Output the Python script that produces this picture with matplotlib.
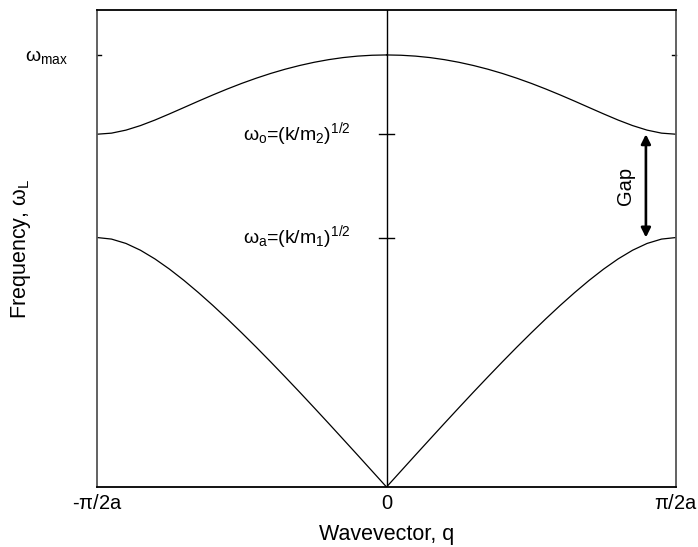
import matplotlib
matplotlib.use("Agg")
import matplotlib.pyplot as plt
import numpy as np

plt.rcParams["font.family"] = ["Liberation Sans", "DejaVu Sans"]
plt.rcParams["mathtext.fontset"] = "custom"
plt.rcParams["mathtext.rm"] = "Liberation Sans"
plt.rcParams["mathtext.it"] = "Liberation Sans"
plt.rcParams["mathtext.bf"] = "Liberation Sans:bold"

# Wavevector in units of pi/2a (right half of the zone; the left half mirrors it)
q_half = [0.00, 0.05, 0.10, 0.15, 0.20, 0.25, 0.30, 0.35, 0.40, 0.45, 0.50,
          0.55, 0.60, 0.65, 0.70, 0.75, 0.80, 0.85, 0.90, 0.95, 1.00]
# Frequencies in units of omega_max
acoustic = [0.0000, 0.0370, 0.0740, 0.1107, 0.1473, 0.1835, 0.2194, 0.2547,
            0.2895, 0.3236, 0.3568, 0.3891, 0.4203, 0.4501, 0.4783, 0.5044,
            0.5279, 0.5480, 0.5637, 0.5738, 0.5774]
optical = [1.0000, 0.9993, 0.9973, 0.9939, 0.9891, 0.9830, 0.9756, 0.9670,
           0.9572, 0.9462, 0.9342, 0.9212, 0.9074, 0.8930, 0.8782, 0.8635,
           0.8493, 0.8365, 0.8260, 0.8190, 0.8165]

x_ticks = [-1, 0, 1]
x_tick_labels = [r"-$\pi$/2a", "0", r"$\pi$/2a"]
omega_max = 1.0
omega_o = optical[-1]
omega_a = acoustic[-1]

fig = plt.figure(figsize=(6.98, 5.47), dpi=100)
ax = fig.add_axes([0.139, 0.1097, 0.8295, 0.872])

q = np.array(q_half)
for branch in (acoustic, optical):
    w = np.array(branch)
    ax.plot(q, w, color="black", lw=0.9)
    ax.plot(-q, w, color="black", lw=0.9)

# zone centre line
ax.axvline(0, color="black", lw=1.0)

ax.set_xlim(-1, 1)
ax.set_ylim(0, 1.104)

for side in ("left", "right"):
    ax.spines[side].set_color("#555555")
    ax.spines[side].set_linewidth(1.3)
for side in ("top", "bottom"):
    ax.spines[side].set_color("black")
    ax.spines[side].set_linewidth(1.3)

ax.set_xticks(x_ticks)
ax.set_xticklabels(x_tick_labels, fontsize=14.5)
ax.tick_params(axis="x", length=0, pad=5)
ax.set_yticks([])

# inward ticks at omega_max on both side axes
tick_len = 0.014
ax.plot([-1, -1 + tick_len], [omega_max, omega_max], color="black", lw=1.0, clip_on=False)
ax.plot([1 - tick_len, 1], [omega_max, omega_max], color="black", lw=1.0, clip_on=False)
# crossing ticks on the centre line
for w in (omega_o, omega_a):
    ax.plot([-0.025, 0.025], [w, w], color="black", lw=1.0)

ax.text(-1.175, omega_max - 0.005, r"$\omega_{\mathrm{max}}$", fontsize=14,
        ha="center", va="center", clip_on=False)
ax.text(-0.125, omega_o, r"$\omega_o$=(k/m$_2$)$^{1/2}$", fontsize=14,
        ha="right", va="center")
ax.text(-0.125, omega_a, r"$\omega_a$=(k/m$_1$)$^{1/2}$", fontsize=14,
        ha="right", va="center")

# band gap arrow
ax.annotate("", xy=(0.896, omega_o), xytext=(0.896, omega_a),
            arrowprops=dict(arrowstyle="<|-|>", color="black", lw=1.9,
                            mutation_scale=14, shrinkA=0, shrinkB=0))
ax.text(0.826, (omega_o + omega_a) / 2, "Gap", fontsize=14.5, rotation=90,
        ha="center", va="center")

ax.set_xlabel("Wavevector, q", fontsize=15.5)
ax.xaxis.set_label_coords(0.5, -0.078)
ax.set_ylabel(r"Frequency, $\omega_L$", fontsize=15.5)
ax.yaxis.set_label_coords(-0.11, 0.5)

fig.savefig("out.png", dpi=100)
